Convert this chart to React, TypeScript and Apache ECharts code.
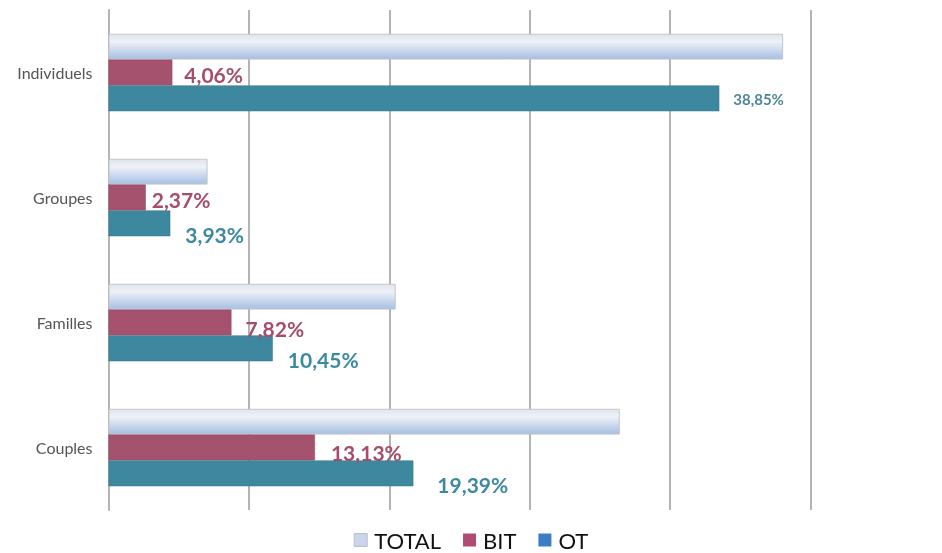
import React, { useEffect, useRef } from "react";
import * as echarts from "echarts";

const categories = ["Individuels", "Groupes", "Familles", "Couples"];
const seriesNames = ["TOTAL", "BIT", "OT"];
const totalValues = [42.91, 6.3, 18.27, 32.52];
const bitValues = [4.06, 2.37, 7.82, 13.13];
const otValues = [38.85, 3.93, 10.45, 19.39];
const axisMax = 44.65;
const axisInterval = 8.93;

// label nudges (px) per category
const bitLabelOffsets = [[12, 2], [6, 1.5], [14, 6], [16, 5]];
const otLabelOffsets = [[14, 1], [15, 11.5], [15, 11.5], [24, 11]];

const fmt = (v: number) => v.toFixed(2).replace(".", ",") + "%";

export default function App() {
  const ref = useRef<HTMLDivElement>(null);
  useEffect(() => {
    if (!ref.current) return;
    const chart = echarts.init(ref.current, undefined, { renderer: "svg" });
    const labelFont = "Lato, 'Noto Sans', sans-serif";
    chart.setOption({
      animation: false,
      grid: { left: 108.5, right: 131.5, top: 10, bottom: 43 },
      legend: {
        top: 529,
        left: "center",
        padding: 0,
        itemWidth: 13,
        itemHeight: 13,
        itemGap: 22,
        icon: "rect",
        textStyle: {
          fontSize: 22,
          lineHeight: 22,
          color: "#111",
          fontFamily: labelFont,
          padding: [0, 0, 0, 2],
        },
        data: [
          { name: "TOTAL", itemStyle: { color: "#c9d5ea", borderColor: "#b8c0cc", borderWidth: 1 } },
          { name: "BIT", itemStyle: { color: "#b04c72", borderWidth: 0 } },
          { name: "OT", itemStyle: { color: "#3c7dc4", borderWidth: 0 } },
        ],
      },
      xAxis: {
        type: "value",
        min: 0,
        max: axisMax,
        interval: axisInterval,
        axisLabel: { show: false },
        axisTick: { show: false },
        axisLine: { show: false },
        splitLine: { show: true, lineStyle: { color: "#b4b4b4", width: 2 } },
      },
      yAxis: {
        type: "category",
        inverse: true,
        data: categories,
        axisTick: { show: false },
        axisLine: { show: true, lineStyle: { color: "#b4b4b4", width: 2 } },
        axisLabel: { color: "#555", fontSize: 16, fontFamily: labelFont, margin: 16 },
      },
      series: [
        {
          name: seriesNames[0],
          type: "bar",
          barCategoryGap: "38%",
          barGap: "0%",
          data: totalValues,
          itemStyle: {
            color: new echarts.graphic.LinearGradient(0, 0, 0, 1, [
              { offset: 0, color: "#e1e4ea" },
              { offset: 0.3, color: "#eef1f7" },
              { offset: 1, color: "#a6bfe3" },
            ]),
            borderColor: "#c2c6cc",
            borderWidth: 1,
          },
        },
        {
          name: seriesNames[1],
          type: "bar",
          barGap: "0%",
          itemStyle: { color: "#a5526f", borderColor: "#8e4560", borderWidth: 0.5 },
          data: bitValues.map((v, i) => ({
            value: v,
            label: { offset: bitLabelOffsets[i] },
          })),
          label: {
            show: true,
            position: "right",
            distance: 0,
            color: "#a64d6e",
            fontSize: 21,
            fontWeight: "bold",
            fontFamily: labelFont,
            formatter: (p: any) => fmt(p.value),
          },
        },
        {
          name: seriesNames[2],
          type: "bar",
          barGap: "0%",
          itemStyle: { color: "#3e889f", borderColor: "#35778b", borderWidth: 0.5 },
          data: otValues.map((v, i) => ({
            value: v,
            label:
              i === 0
                ? { offset: otLabelOffsets[i], fontSize: 15, color: "#4f8598" }
                : { offset: otLabelOffsets[i] },
          })),
          label: {
            show: true,
            position: "right",
            distance: 0,
            color: "#3d89a3",
            fontSize: 21,
            fontWeight: "bold",
            fontFamily: labelFont,
            formatter: (p: any) => fmt(p.value),
          },
        },
      ],
    });
    return () => chart.dispose();
  }, []);
  return (
    <div
      ref={ref}
      style={{ position: "fixed", left: 0, top: 0, width: 942, height: 553, overflow: "hidden" }}
    />
  );
}
